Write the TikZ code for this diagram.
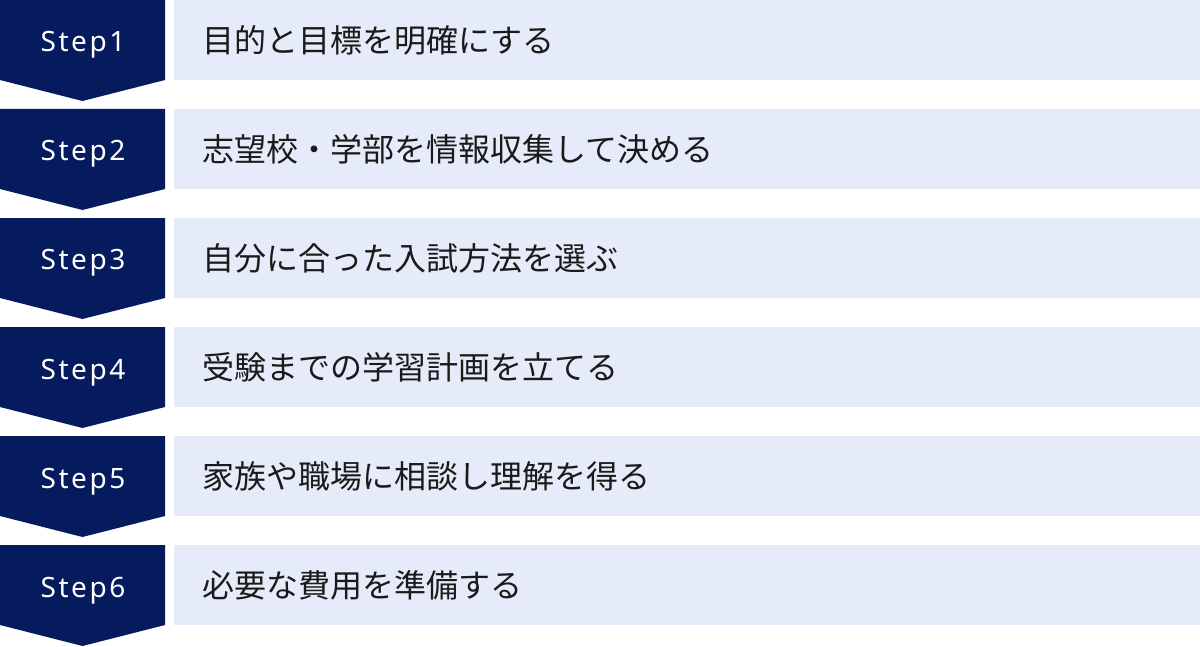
\documentclass[tikz,border=0pt]{standalone}
\usepackage{fontspec}
\setmainfont{Noto Sans}
\newfontfamily\stepfont[LetterSpace=9]{Noto Sans}
\newfontfamily\jpfont{Noto Sans CJK JP}
\definecolor{stepnavy}{HTML}{061A5E}
\definecolor{taskblue}{HTML}{E5EBF8}
\definecolor{taskink}{HTML}{1A1A1A}
\tikzset{
  steplabel/.style={text=white,font=\stepfont\fontsize{14pt}{16pt}\selectfont,inner sep=0pt,anchor=base},
  tasklabel/.style={text=taskink,font=\jpfont\fontsize{16pt}{19pt}\selectfont,anchor=west,inner sep=0pt}
}
\begin{document}
\begin{tikzpicture}[x=0.5pt,y=-0.5pt]
  \useasboundingbox (0,0) rectangle (1200,647);
  \foreach \i/\txt in {1/目的と目標を明確にする,
                       2/志望校・学部を情報収集して決める,
                       3/自分に合った入試方法を選ぶ,
                       4/受験までの学習計画を立てる,
                       5/家族や職場に相談し理解を得る,
                       6/必要な費用を準備する} {
    \pgfmathsetmacro\ytop{(\i-1)*109}
    \fill[stepnavy] (0,\ytop) -- ++(165,0) -- ++(0,80) -- ++(-82.5,21)
      -- ++(-82.5,-21) -- cycle;
    \fill[taskblue] (174,\ytop) rectangle ++(1026,80);
    \node[steplabel] (step\i) at (83,\ytop+52) {Step\i};
    \node[tasklabel] (task\i) at (202,\ytop+40) {\txt};
  }
\end{tikzpicture}
\end{document}
